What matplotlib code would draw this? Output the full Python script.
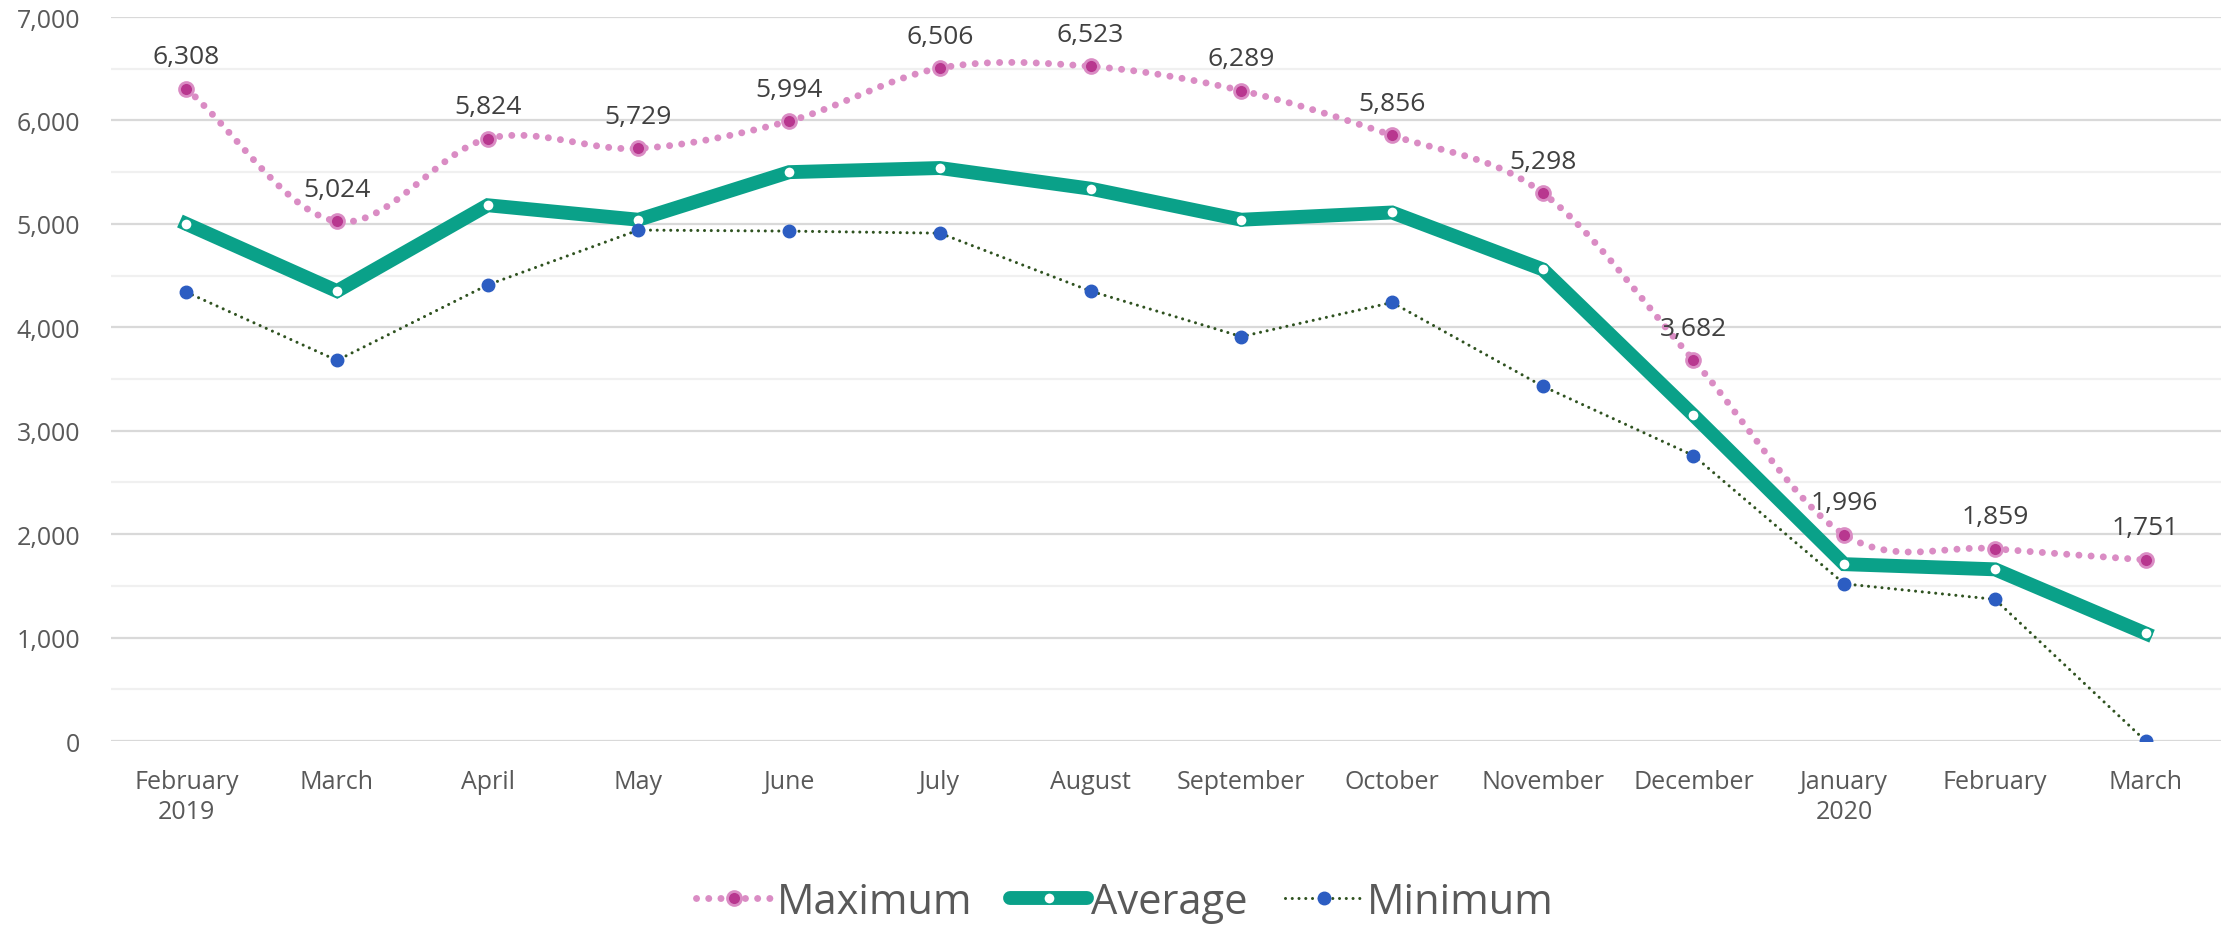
import numpy as np
import matplotlib
matplotlib.use("Agg")
import matplotlib.pyplot as plt
from matplotlib.lines import Line2D
from matplotlib.ticker import MultipleLocator, FuncFormatter

months = ["February\n2019", "March", "April", "May", "June", "July", "August",
          "September", "October", "November", "December", "January\n2020",
          "February", "March"]
maximum = [6308, 5024, 5824, 5729, 5994, 6506, 6523, 6289, 5856, 5298, 3682, 1996, 1859, 1751]
average = [5000, 4350, 5180, 5040, 5500, 5540, 5340, 5040, 5110, 4560, 3150, 1710, 1660, 1040]
minimum = [4340, 3680, 4410, 4940, 4930, 4910, 4350, 3910, 4240, 3430, 2760, 1520, 1370, 0]

FONT = ['Open Sans', 'DejaVu Sans']
plt.rcParams['font.family'] = FONT

C_MAX_LINE = "#DA8CC4"
C_MAX_MK = "#B8378F"
C_AVG = "#0AA189"
C_MIN_LINE = "#2F5220"
C_MIN_MK = "#2C5DC2"

fig = plt.figure(figsize=(22.36, 9.28), dpi=100)
ax = fig.add_axes([0.0496, 0.2004, 0.9437, 0.7802])

x = np.arange(len(months))


def smooth(xs, ys, n=30):
    xs = np.asarray(xs, float)
    ys = np.asarray(ys, float)
    px = np.concatenate([[2 * xs[0] - xs[1]], xs, [2 * xs[-1] - xs[-2]]])
    py = np.concatenate([[2 * ys[0] - ys[1]], ys, [2 * ys[-1] - ys[-2]]])
    ox, oy = [], []
    t = np.linspace(0, 1, n, endpoint=False)
    for i in range(1, len(px) - 2):
        p0, p1, p2, p3 = [np.array([px[j], py[j]]) for j in (i - 1, i, i + 1, i + 2)]
        c1 = p1 + (p2 - p0) / 6
        c2 = p2 - (p3 - p1) / 6
        b = ((1 - t) ** 3)[:, None] * p1 + (3 * (1 - t) ** 2 * t)[:, None] * c1 + \
            (3 * (1 - t) * t ** 2)[:, None] * c2 + (t ** 3)[:, None] * p2
        ox.extend(b[:, 0]); oy.extend(b[:, 1])
    ox.append(xs[-1]); oy.append(ys[-1])
    return np.array(ox), np.array(oy)


# grid
ax.set_ylim(0, 7000)
ax.set_xlim(-0.5, len(months) - 0.5)
ax.yaxis.set_major_locator(MultipleLocator(1000))
ax.yaxis.set_minor_locator(MultipleLocator(500))
ax.grid(axis='y', which='major', color="#D9D9D9", linewidth=1.6, zorder=0)
ax.grid(axis='y', which='minor', color="#F0F0F0", linewidth=1.6, zorder=0)
for s in ax.spines.values():
    s.set_visible(False)
ax.tick_params(axis='both', which='both', length=0)
ax.yaxis.set_major_formatter(FuncFormatter(lambda v, p: f"{int(v):,}"))
ax.tick_params(axis='y', labelsize=18, labelcolor="#595959", pad=22)
ax.set_xticks(x)
ax.set_xticklabels(months, fontsize=18, color="#595959", linespacing=1.25)
ax.tick_params(axis='x', pad=20)

# maximum (smoothed dotted)
sx, sy = smooth(x, maximum)
ax.plot(sx, sy, color=C_MAX_LINE, linewidth=5, linestyle=(0, (0.01, 1.75)),
        dash_capstyle='round', zorder=3)
ax.plot(x, maximum, linestyle='none', marker='o', markersize=10,
        markerfacecolor=C_MAX_MK, markeredgecolor=C_MAX_LINE, markeredgewidth=2, zorder=5)
for xi, v in zip(x, maximum):
    ax.annotate(f"{v:,}", (xi, v), xytext=(0, 14), textcoords='offset points',
                ha='center', va='bottom', fontsize=19, color="#404040", zorder=6)

# average
ax.plot(x, average, color=C_AVG, linewidth=10, solid_joinstyle='miter', zorder=3)
ax.plot(x, average, linestyle='none', marker='o', markersize=8,
        markerfacecolor='white', markeredgecolor=C_AVG, markeredgewidth=1, zorder=5)

# minimum
ax.plot(x, minimum, color=C_MIN_LINE, linewidth=2.2, linestyle=(0, (0.01, 2.2)),
        dash_capstyle='round', zorder=4)
ax.plot(x, minimum, linestyle='none', marker='o', markersize=9,
        markerfacecolor=C_MIN_MK, markeredgecolor=C_MIN_MK, zorder=6)

handles = [
    Line2D([], [], color=C_MAX_LINE, linewidth=5, linestyle=(0, (0.01, 1.75)),
           dash_capstyle='round', marker='o', markersize=10,
           markerfacecolor=C_MAX_MK, markeredgecolor=C_MAX_LINE, markeredgewidth=2),
    Line2D([], [], color=C_AVG, linewidth=10, solid_capstyle='round', marker='o',
           markersize=8, markerfacecolor='white', markeredgecolor=C_AVG, markeredgewidth=1),
    Line2D([], [], color=C_MIN_LINE, linewidth=2.2, linestyle=(0, (0.01, 2.2)),
           dash_capstyle='round', marker='o', markersize=9,
           markerfacecolor=C_MIN_MK, markeredgecolor=C_MIN_MK),
]
fig.legend(handles, ["Maximum", "Average", "Minimum"], loc='center',
           bbox_to_anchor=(0.503, 0.027), ncol=3, frameon=False, fontsize=30,
           labelcolor="#595959", handlelength=1.85, handletextpad=0.1,
           columnspacing=0.9)

fig.savefig("out.png", dpi=100, facecolor='white')
